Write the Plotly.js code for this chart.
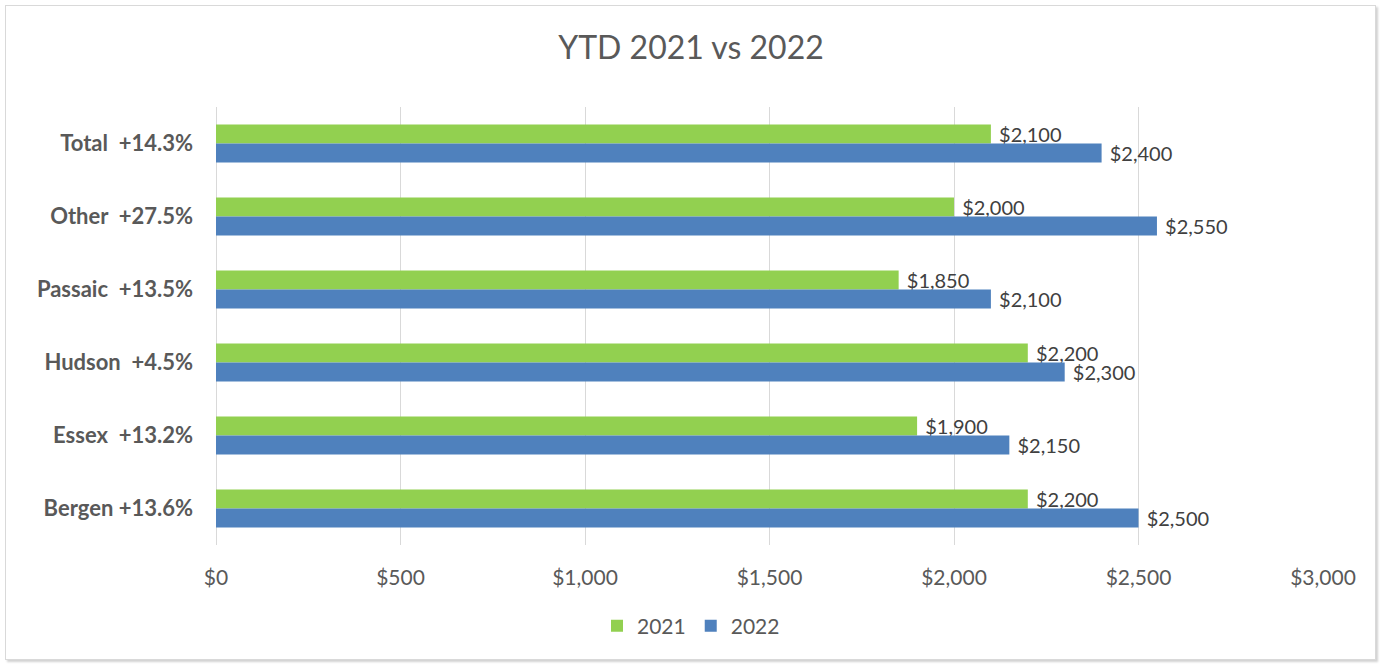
<!DOCTYPE html>
<html>
<head>
<meta charset="utf-8">
<script src="https://cdn.plot.ly/plotly-3.0.1.min.js"></script>
<style>
  html, body { margin: 0; padding: 0; background: #fff; }
  #wrap { position: relative; width: 1382px; height: 664px; }
  #chart { width: 1382px; height: 664px; }
  #frame { position: absolute; left: 5px; top: 5px; width: 1369px; height: 653px;
           border: 1px solid #d9d9d9; box-shadow: 2px 2px 2px rgba(0,0,0,0.18); pointer-events: none; }
</style>
</head>
<body>
<div id="wrap">
  <div id="chart"></div>
  <div id="frame"></div>
</div>
<script>
// Categories, top to bottom
const categories = ["Total\u00a0 +14.3%", "Other\u00a0 +27.5%", "Passaic\u00a0 +13.5%", "Hudson\u00a0 +4.5%", "Essex\u00a0 +13.2%", "Bergen +13.6%"];
const values2021 = [2100, 2000, 1850, 2200, 1900, 2200];
const values2022 = [2400, 2550, 2100, 2300, 2150, 2500];
const seriesNames = ["2021", "2022"];
const xTickVals = [0, 500, 1000, 1500, 2000, 2500, 3000];

const FONT = "Lato, 'Open Sans', sans-serif";
const LABEL_TEMPLATE = "\u00a0$%{x:,}";

const traces = [
  {
    type: "bar", orientation: "h", name: seriesNames[0],
    y: categories, x: values2021,
    marker: { color: "#92D050" },
    texttemplate: LABEL_TEMPLATE, textposition: "outside", cliponaxis: false,
    constraintext: "none",
    textfont: { family: FONT, size: 20, color: "#404040" },
    hoverinfo: "x+name"
  },
  {
    type: "bar", orientation: "h", name: seriesNames[1],
    y: categories, x: values2022,
    marker: { color: "#4F81BD" },
    texttemplate: LABEL_TEMPLATE, textposition: "outside", cliponaxis: false,
    constraintext: "none",
    textfont: { family: FONT, size: 20, color: "#404040" },
    hoverinfo: "x+name"
  }
];

const layout = {
  width: 1382, height: 664,
  margin: { l: 216, r: 59, t: 107, b: 119 },
  paper_bgcolor: "#ffffff", plot_bgcolor: "#ffffff",
  font: { family: FONT, color: "#595959" },
  title: {
    text: "YTD 2021 vs 2022",
    font: { family: FONT, size: 32, color: "#595959" },
    xref: "container", x: 0.5, xanchor: "center",
    yref: "container", y: 1 - 48 / 664, yanchor: "middle"
  },
  barmode: "group",
  bargap: 0.48,
  bargroupgap: 0,
  xaxis: {
    range: [0, 3000], tickvals: xTickVals, tickformat: "$,",
    showgrid: true, gridcolor: "#d9d9d9", gridwidth: 1,
    zeroline: true, zerolinecolor: "#d9d9d9", zerolinewidth: 1,
    showline: false, ticks: "",
    tickfont: { family: FONT, size: 21, color: "#595959" },
    ticklabelstandoff: 18
  },
  yaxis: {
    type: "category", autorange: "reversed",
    showgrid: false, zeroline: false, showline: false, ticks: "",
    tickfont: { family: FONT, size: 22, color: "#595959", weight: "bold" },
    ticklabelstandoff: 22
  },
  showlegend: true,
  legend: {
    orientation: "h",
    xref: "container", x: 0.5, xanchor: "center",
    yref: "container", y: 1 - 626 / 664, yanchor: "middle",
    font: { family: FONT, size: 21, color: "#595959" },
    itemwidth: 30
  }
};

Plotly.newPlot("chart", traces, layout, { displayModeBar: false, responsive: false });
</script>
</body>
</html>
